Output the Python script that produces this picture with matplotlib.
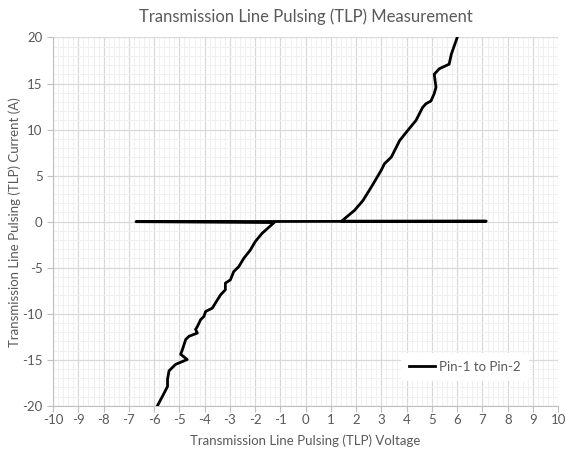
import matplotlib.pyplot as plt
from matplotlib.ticker import MultipleLocator

# negative branch, read from -20 A upwards
neg_v = [-5.87, -5.60, -5.47, -5.47, -5.41, -5.15, -4.69, -4.95, -4.88, -4.75,
         -4.62, -4.29, -4.36, -4.29, -4.16, -4.03, -3.96, -3.70, -3.37, -3.18,
         -3.18, -2.98, -2.85, -2.65, -2.45, -2.19, -2.00, -1.73, -1.25]
neg_i = [-20.0, -18.6, -17.9, -17.1, -16.2, -15.5, -14.97, -14.4, -13.9, -12.8,
         -12.45, -12.1, -11.7, -11.4, -10.65, -10.3, -9.75, -9.4, -7.95, -7.4,
         -6.68, -6.32, -5.43, -4.89, -3.98, -3.08, -2.18, -1.28, -0.1]
# low current sweep along 0 A
flat_v = [-6.72, 7.15]
flat_i = [0.0, 0.05]
# positive branch
pos_v = [1.42, 1.94, 2.27, 2.60, 2.99, 3.12, 3.39, 3.72, 4.04, 4.37,
         4.63, 4.76, 4.96, 5.09, 5.16, 5.09, 5.29, 5.68, 5.77, 6.00]
pos_i = [0.05, 1.24, 2.3, 3.76, 5.57, 6.29, 7.0, 8.8, 9.9, 11.0,
         12.4, 12.8, 13.1, 13.9, 14.6, 16.0, 16.6, 17.1, 18.2, 20.0]

volts = neg_v + flat_v + pos_v
amps = neg_i + flat_i + pos_i

plt.rcParams['font.family'] = ['Lato', 'DejaVu Sans']
plt.rcParams['axes.unicode_minus'] = False
grey = '#595959'

fig = plt.figure(figsize=(5.65, 4.57), dpi=100)
ax = fig.add_axes([0.094, 0.112, 0.894, 0.806])

ax.plot(volts, amps, color='black', lw=2.0, label='Pin-1 to Pin-2', zorder=3,
        solid_joinstyle='round')

ax.set_xlim(-10, 10)
ax.set_ylim(-20, 20)
ax.xaxis.set_major_locator(MultipleLocator(1))
ax.xaxis.set_minor_locator(MultipleLocator(0.2))
ax.yaxis.set_major_locator(MultipleLocator(5))
ax.yaxis.set_minor_locator(MultipleLocator(1))
ax.grid(which='major', color='#d9d9d9', lw=0.9)
ax.grid(which='minor', color='#f0f0f0', lw=0.7)
ax.set_axisbelow(True)

for s in ['top', 'right']:
    ax.spines[s].set_visible(False)
for s in ['left', 'bottom']:
    ax.spines[s].set_color('#bfbfbf')
ax.tick_params(which='major', colors='#bfbfbf', labelcolor=grey, labelsize=9.5, length=4)
ax.tick_params(axis='x', pad=2)
ax.tick_params(which='minor', length=0)

ax.set_title('Transmission Line Pulsing (TLP) Measurement', color=grey, fontsize=12, pad=11)
ax.set_xlabel('Transmission Line Pulsing (TLP) Voltage', color=grey, fontsize=9.5, labelpad=6)
ax.set_ylabel('Transmission Line Pulsing (TLP) Current (A)', color=grey, fontsize=9.5, labelpad=1)

leg = ax.legend(loc='lower right', bbox_to_anchor=(0.955, 0.05), frameon=True,
                fontsize=9.5, handlelength=2.0, handletextpad=0.3, borderpad=0.6)
leg.get_frame().set_edgecolor('none')
leg.get_frame().set_facecolor('white')
leg.get_frame().set_alpha(1)
for t in leg.get_texts():
    t.set_color(grey)

fig.savefig('out.png', dpi=100)
